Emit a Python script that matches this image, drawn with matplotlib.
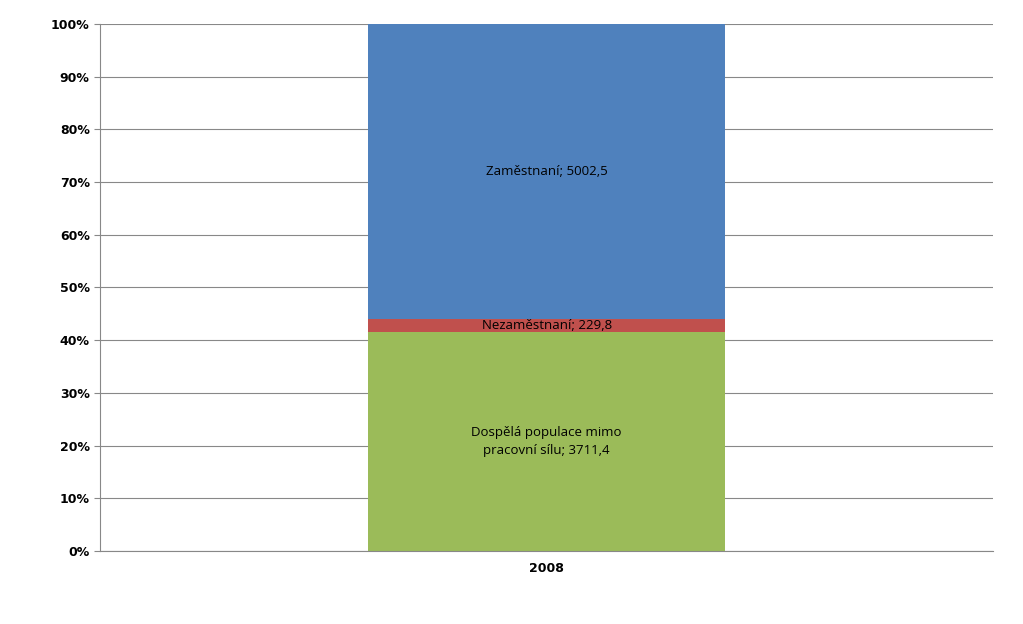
import matplotlib
matplotlib.use("Agg")
import matplotlib.pyplot as plt
from matplotlib.ticker import PercentFormatter

years = ["2008"]
segments = ["Dospělá populace mimo\npracovní sílu", "Nezaměstnaní", "Zaměstnaní"]
values = [3711.4, 229.8, 5002.5]
colors = ["#9BBB59", "#C0504D", "#4F81BD"]

total = sum(values)
fig = plt.figure(figsize=(10.23, 6.24), dpi=100)
ax = fig.add_axes([0.0978, 0.117, 0.873, 0.8446])

bottom = 0
for name, val, col in zip(segments, values, colors):
    pct = val / total * 100
    ax.bar(0, pct, width=0.4, bottom=bottom, color=col)
    label = f"{name}; {str(val).replace('.', ',')}"
    ax.text(0, bottom + pct / 2, label, ha="center", va="center",
            fontsize=9.5, family="Open Sans", linespacing=1.5)
    bottom += pct

ax.set_xlim(-0.5, 0.5)
ax.set_ylim(0, 100)
ax.set_yticks(range(0, 101, 10))
ax.yaxis.set_major_formatter(PercentFormatter(decimals=0))
ax.set_xticks([0])
ax.set_xticklabels(years)
for lbl in ax.get_yticklabels() + ax.get_xticklabels():
    lbl.set_fontweight("bold")
    lbl.set_fontsize(9)
ax.grid(axis="y", color="#888888", linewidth=0.8)
ax.set_axisbelow(True)
for s in ["top", "right"]:
    ax.spines[s].set_visible(False)
ax.spines["left"].set_color("#888888")
ax.spines["bottom"].set_color("#888888")
ax.tick_params(axis="y", length=4, color="#888888")
ax.tick_params(axis="x", length=0, pad=8)

fig.savefig("out.png", dpi=100)
